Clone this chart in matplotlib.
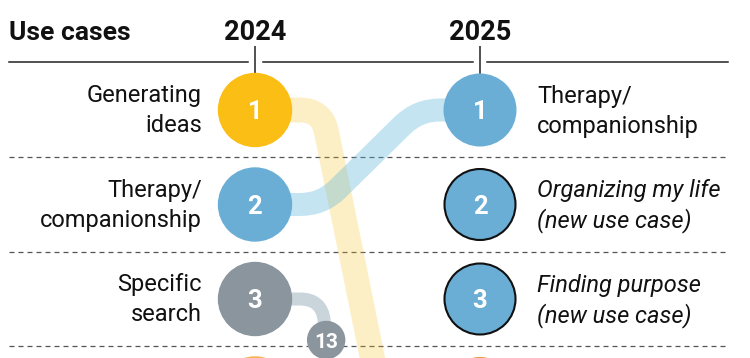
import numpy as np
import matplotlib.pyplot as plt
from matplotlib.path import Path
from matplotlib.patches import Circle, PathPatch

plt.rcParams['font.family'] = ['Roboto', 'DejaVu Sans']

# Data
years = ['2024', '2025']
cases_2024 = ['Generating\nideas', 'Therapy/\ncompanionship', 'Specific\nsearch']
cases_2025 = ['Therapy/\ncompanionship', 'Organizing my life\n(new use case)', 'Finding purpose\n(new use case)']
new_2025 = [False, True, True]
colors_2024 = ['#fbbe14', '#6aaed6', '#8a959d', '#f7b448']
colors_2025 = ['#6aaed6', '#6aaed6', '#6aaed6', '#f29a3e']

# rank moves 2024 -> 2025 shown as ribbons
move_from = [1, 2, 3]
move_to = [6, 1, 13]
ribbon_colors = ['#f9c01a', '#5ab4dc', '#b9c6cf']
ribbon_alpha = [0.25, 0.35, 0.75]
ribbon_width = [25, 23, 13]  # px

# Layout (pixels)
W, H = 750, 358
x_year = [255, 480]
row0, row_gap = 110, 94.5
r_big, r_small = 36.5, 18.5
x_out, x_in = 322, 418


def rank_y(rank):
    return row0 + (rank - 1) * row_gap


def rounded_path(pts, rad=22):
    verts = [pts[0]]
    codes = [Path.MOVETO]
    for i in range(1, len(pts) - 1):
        p0, p1, p2 = map(np.array, (pts[i - 1], pts[i], pts[i + 1]))
        d1 = np.linalg.norm(p1 - p0)
        d2 = np.linalg.norm(p2 - p1)
        r = min(rad, d1 / 2, d2 / 2)
        a = p1 + (p0 - p1) / d1 * r
        b = p1 + (p2 - p1) / d2 * r
        verts += [tuple(a), tuple(p1), tuple(b)]
        codes += [Path.LINETO, Path.CURVE3, Path.CURVE3]
    verts.append(pts[-1])
    codes.append(Path.LINETO)
    return Path(verts, codes)


fig = plt.figure(figsize=(7.5, 3.58), dpi=100)
ax = fig.add_axes([0, 0, 1, 1])
ax.set_xlim(0, W)
ax.set_ylim(H, 0)
ax.axis('off')

px = 0.72  # points per pixel

# header
ax.text(9, 39.5, 'Use cases', fontsize=19, fontweight='bold', ha='left', va='baseline', color='#111')
for xy, yr in zip(x_year, years):
    ax.text(xy, 39.5, yr, fontsize=19.5, fontweight='bold', ha='center', va='baseline', color='#111')
    ax.plot([xy, xy], [46, 74], color='#222', lw=1.1, solid_capstyle='butt')
ax.plot([9, x_year[0] - 7], [62, 62], color='#222', lw=1.1)
ax.plot([x_year[0] + 8, x_year[1] - 7], [62, 62], color='#222', lw=1.1)
ax.plot([x_year[1] + 7, 728], [62, 62], color='#222', lw=1.1)

# dashed separators
for k in range(1, 4):
    yy = rank_y(k) + row_gap / 2
    ax.plot([9, 728], [yy, yy], color='#555', lw=0.9, dashes=(4, 3.2))

# ribbons
for fr, to, c, a, w in zip(move_from, move_to, ribbon_colors, ribbon_alpha, ribbon_width):
    y0, y1 = rank_y(fr), rank_y(to)
    pts = [(x_year[0], y0), (x_out, y0), (x_in, y1), (x_year[1], y1)]
    ax.add_patch(PathPatch(rounded_path(pts), fill=False, edgecolor=c, alpha=a,
                           lw=w * px, capstyle='butt', joinstyle='round', zorder=2))
    if to > 10:
        yl = y0 + 41
        xl = x_out + (x_in - x_out) * (yl - y0) / (y1 - y0)
        ax.add_patch(Circle((xl, yl), r_small, color='#8a959d', zorder=4))
        ax.text(xl, yl + 7.5, str(to), color='white', fontsize=15, fontweight='bold',
                ha='center', va='baseline', zorder=5)

# circles (row 4 only peeks in at the bottom edge)
n_shown = len(cases_2024)
for i, c in enumerate(colors_2024):
    y = rank_y(i + 1)
    ax.add_patch(Circle((x_year[0], y), r_big, color=c, zorder=3))
    if i < n_shown:
        ax.text(x_year[0], y + 9, str(i + 1), color='white', fontsize=18.5, fontweight='bold',
                ha='center', va='baseline', zorder=5)
for i, c in enumerate(colors_2025):
    y = rank_y(i + 1)
    edge = i < len(new_2025) and new_2025[i]
    ax.add_patch(Circle((x_year[1], y), r_big - (1 if edge else 0), facecolor=c,
                        edgecolor='#111' if edge else 'none', lw=1.5, zorder=3))
    if i < n_shown:
        ax.text(x_year[1], y + 9, str(i + 1), color='white', fontsize=18.5, fontweight='bold',
                ha='center', va='baseline', zorder=5)

# labels
for i, lab in enumerate(cases_2024):
    y = rank_y(i + 1)
    l1, l2 = lab.split('\n')
    ax.text(202, y - 8, l1, fontsize=17, ha='right', va='baseline', color='#111')
    ax.text(202, y + 22, l2, fontsize=17, ha='right', va='baseline', color='#111')
for i, lab in enumerate(cases_2025):
    y = rank_y(i + 1)
    l1, l2 = lab.split('\n')
    st = 'italic' if new_2025[i] else 'normal'
    ax.text(537, y - 7, l1, fontsize=17, style=st, ha='left', va='baseline', color='#111')
    ax.text(537, y + 23, l2, fontsize=17, style=st, ha='left', va='baseline', color='#111')

fig.savefig('out.png', dpi=100)
